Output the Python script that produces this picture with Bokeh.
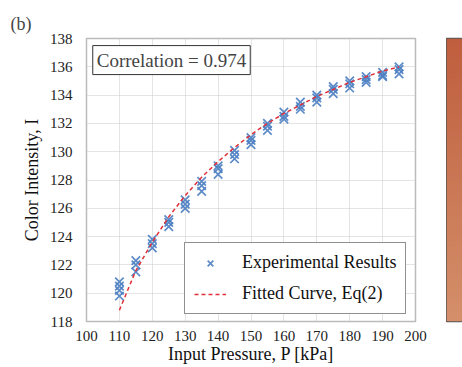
import numpy as np
from bokeh.plotting import figure
from bokeh.models import (ColumnDataSource, Legend, LegendItem, Label,
                          LinearColorMapper, FixedTicker)
from bokeh.layouts import row
from bokeh.embed import file_html
from bokeh.resources import INLINE

# ---- data ----
pressure_groups = [110, 115, 120, 125, 130, 135, 140, 145, 150, 155,
                   160, 165, 170, 175, 180, 185, 190, 195]
exp_values = [
    [120.8, 120.5, 120.2, 119.8],
    [122.3, 122.0, 121.5],
    [123.8, 123.5, 123.2],
    [125.2, 125.0, 124.7],
    [126.6, 126.3, 126.0],
    [127.9, 127.6, 127.2],
    [129.0, 128.8, 128.4],
    [130.1, 129.8, 129.5],
    [131.0, 130.8, 130.5],
    [132.0, 131.8, 131.5],
    [132.8, 132.5, 132.3],
    [133.5, 133.2, 133.0],
    [134.0, 133.8, 133.5],
    [134.6, 134.4, 134.1],
    [135.0, 134.8, 134.5],
    [135.3, 135.1, 134.9],
    [135.6, 135.4, 135.3],
    [136.0, 135.8, 135.5],
]
fit_p = [110, 115, 120, 125, 130, 135, 140, 145, 150, 155,
         160, 165, 170, 175, 180, 185, 190, 195]
fit_i = [118.8, 121.6, 123.6, 125.4, 126.9, 128.2, 129.3, 130.3, 131.2, 132.0,
         132.7, 133.3, 133.9, 134.4, 134.9, 135.3, 135.7, 136.0]
x_ticks = [100, 110, 120, 130, 140, 150, 160, 170, 180, 190, 200]
y_ticks = [118, 120, 122, 124, 126, 128, 130, 132, 134, 136, 138]

exp_x = [p for p, vals in zip(pressure_groups, exp_values) for _ in vals]
exp_y = [v for vals in exp_values for v in vals]

FONT = "Liberation Serif"

p = figure(width=446, height=367, output_backend="svg", toolbar_location=None,
           x_range=(100, 200), y_range=(118, 138),
           min_border_left=86, min_border_right=31, min_border_top=38,
           min_border_bottom=46)

p.title.text = "(b)"
p.title.text_font = FONT
p.title.text_font_size = "18px"
p.title.text_font_style = "normal"
p.title.align = "left"
p.title.offset = -76
p.title.standoff = 9

p.outline_line_color = "#BBBBBB"
p.outline_line_width = 1.5
for ax in (p.xaxis, p.yaxis):
    ax.axis_line_color = None
    ax.major_tick_line_color = None
    ax.minor_tick_line_color = None
    ax.major_tick_out = 0
    ax.major_tick_in = 0
    ax.minor_tick_out = 0
    ax.major_label_text_font = FONT
    ax.major_label_text_font_size = "15px"
    ax.major_label_text_color = "#222222"
    ax.axis_label_text_font = FONT
    ax.axis_label_text_font_size = "18px"
    ax.axis_label_text_font_style = "normal"
    ax.axis_label_text_color = "#111111"
p.xaxis.ticker = FixedTicker(ticks=x_ticks)
p.yaxis.ticker = FixedTicker(ticks=y_ticks)
p.xaxis.major_label_standoff = 9
p.yaxis.major_label_standoff = 14
p.xaxis.axis_label = "Input Pressure, P [kPa]"
p.yaxis.axis_label = "Color Intensity, I"
p.xaxis.axis_label_standoff = 0
p.yaxis.axis_label_standoff = 5

p.xgrid.grid_line_color = "#C8C8C8"
p.ygrid.grid_line_color = "#C8C8C8"
p.xgrid.grid_line_dash = "1 1"
p.ygrid.grid_line_dash = "1 1"

src = ColumnDataSource(dict(x=exp_x, y=exp_y))
r_exp = p.scatter("x", "y", source=src, marker="x", size=12,
                  line_color="#4A7EC2", line_width=1.7, line_alpha=0.9)
r_fit = p.line(fit_p, fit_i, line_color="#E0303A", line_dash="4 3", line_width=1.5)

legend = Legend(items=[LegendItem(label="Experimental Results", renderers=[r_exp]),
                       LegendItem(label="Fitted Curve, Eq(2)", renderers=[r_fit])],
                location=(98, 7))
legend.label_text_font = FONT
legend.label_text_font_size = "18px"
legend.label_text_color = "#111111"
legend.border_line_color = "#222222"
legend.border_line_width = 1.5
legend.padding = 9
legend.spacing = 10
legend.glyph_width = 32
legend.glyph_height = 20
legend.label_height = 20
legend.label_standoff = 16
legend.margin = 0
p.add_layout(legend, "center")

p.add_layout(Label(x=101.9, y=135.45, text="Correlation = 0.974",
                   text_font=FONT, text_font_size="19px",
                   border_line_color="#333333", border_line_width=1,
                   background_fill_color="white",
                   padding=4))

# color strip on the right (decorative gradient)
palette = []
c0 = (0xBF, 0x5E, 0x3E)
c1 = (0xD4, 0x8F, 0x6A)
for k in range(64):
    t = k / 63
    palette.append("#%02x%02x%02x" % tuple(int(round(a + (b - a) * t)) for a, b in zip(c0, c1)))
mapper = LinearColorMapper(palette=palette[::-1], low=0, high=1)

p2 = figure(width=16, height=367, output_backend="svg", toolbar_location=None,
            x_range=(0, 1), y_range=(0, 1), x_axis_location=None, y_axis_location=None,
            min_border_left=0, min_border_right=0, min_border_top=36,
            min_border_bottom=46)
p2.grid.visible = False
p2.outline_line_color = "#555555"
p2.outline_line_width = 1.5
img = np.linspace(0.0, 1.0, 128).reshape(-1, 1)
p2.image(image=[img], x=0, y=0, dw=1, dh=1, color_mapper=mapper)

layout = row(p, p2, spacing=0)
open("out.html", "w").write(file_html(layout, INLINE))
